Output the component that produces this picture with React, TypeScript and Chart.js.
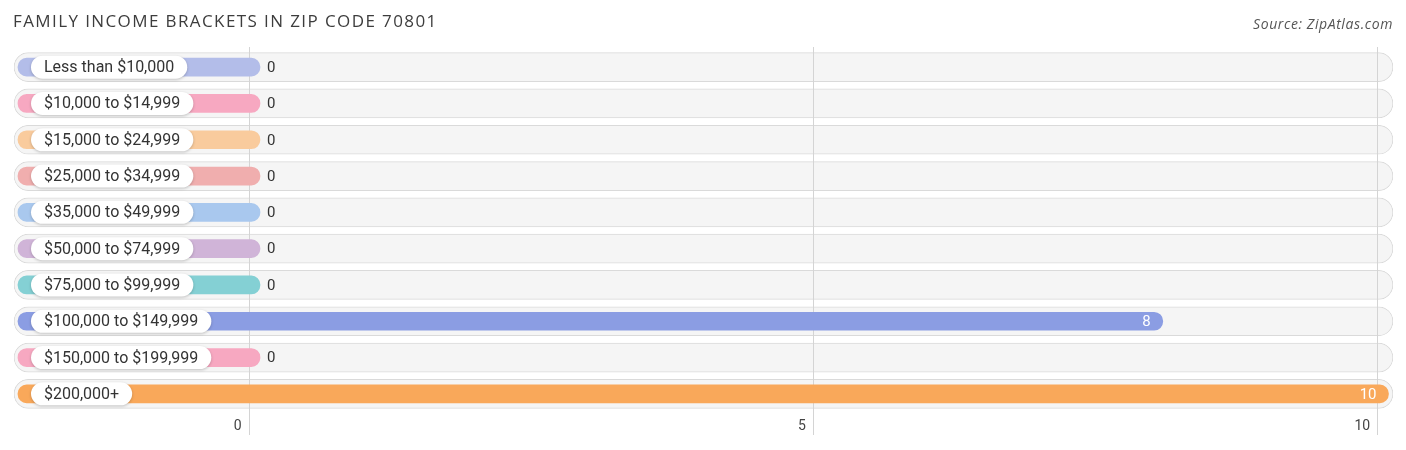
import { useEffect, useRef } from 'react'
import { Chart, registerables } from 'chart.js'

Chart.register(...registerables)

const categories = [
  'Less than $10,000',
  '$10,000 to $14,999',
  '$15,000 to $24,999',
  '$25,000 to $34,999',
  '$35,000 to $49,999',
  '$50,000 to $74,999',
  '$75,000 to $99,999',
  '$100,000 to $149,999',
  '$150,000 to $199,999',
  '$200,000+',
]
const values = [0, 0, 0, 0, 0, 0, 0, 8, 0, 10]
const barColors = [
  '#b3bde9',
  '#f7a8c1',
  '#f9cb9d',
  '#f0aeae',
  '#a9c8ee',
  '#d0b4d8',
  '#84d0d4',
  '#8b9de3',
  '#f7a8c1',
  '#f9a85a',
]
const tickValues = [0, 5, 10]

const TITLE = 'FAMILY INCOME BRACKETS IN ZIP CODE 70801'
const SOURCE = 'Source: ZipAtlas.com'

// axis range (pill track runs a bit past both ends)
const X_MIN = -2.08
const X_MAX = 10.14
const BAR_START = -2.045
const BAR_OVERHANG = 0.1

const FONT = 'Roboto, "Open Sans", sans-serif'

const overlayPlugin = {
  id: 'overlay',
  beforeDatasetDraw(chart: Chart, args: { index: number }) {
    if (args.index !== 1) return
    // grid lines sit between the grey track and the coloured bars
    const { ctx } = chart
    const x = chart.scales.x
    ctx.save()
    ctx.strokeStyle = '#d4d4d4'
    ctx.lineWidth = 1
    tickValues.forEach((v) => {
      const px = Math.round(x.getPixelForValue(v)) + 0.5
      ctx.beginPath()
      ctx.moveTo(px, 47)
      ctx.lineTo(px, 435)
      ctx.stroke()
    })
    ctx.restore()
  },
  afterDatasetsDraw(chart: Chart) {
    const { ctx } = chart
    const x = chart.scales.x
    const y = chart.scales.y
    ctx.save()
    categories.forEach((label, i) => {
      const cy = y.getPixelForValue(i)

      // label pill
      ctx.font = `16px ${FONT}`
      const w = ctx.measureText(label).width + 26
      const h = 23
      const left = 31
      ctx.save()
      ctx.shadowColor = 'rgba(0,0,0,0.22)'
      ctx.shadowBlur = 3
      ctx.shadowOffsetY = 1
      ctx.fillStyle = '#ffffff'
      ctx.beginPath()
      ctx.roundRect(left, cy - h / 2, w, h, h / 2)
      ctx.fill()
      ctx.restore()
      ctx.fillStyle = '#333333'
      ctx.textAlign = 'left'
      ctx.textBaseline = 'middle'
      ctx.fillText(label, left + 13, cy + 1)

      // value label
      const v = values[i]
      const end = x.getPixelForValue(v + BAR_OVERHANG)
      ctx.font = `15px ${FONT}`
      if (v > 0) {
        ctx.fillStyle = '#ffffff'
        ctx.textAlign = 'right'
        ctx.fillText(String(v), end - 12, cy + 1)
      } else {
        ctx.fillStyle = '#333333'
        ctx.textAlign = 'left'
        ctx.fillText(String(v), end + 7, cy + 1)
      }
    })
    ctx.restore()
  },
  afterDraw(chart: Chart) {
    const { ctx } = chart
    const x = chart.scales.x
    ctx.save()
    ctx.textBaseline = 'alphabetic'

    ctx.fillStyle = '#3d3d3d'
    ctx.font = `17px "Open Sans", ${FONT}`
    ctx.textAlign = 'left'
    ;(ctx as any).letterSpacing = '1.4px'
    ctx.fillText(TITLE, 13, 27)

    ctx.fillStyle = '#555555'
    ctx.font = `italic 14px "Open Sans", ${FONT}`
    ctx.textAlign = 'right'
    ;(ctx as any).letterSpacing = '0.6px'
    ctx.fillText(SOURCE, 1393, 29)
    ;(ctx as any).letterSpacing = '0px'

    ctx.fillStyle = '#444444'
    ctx.font = `14px ${FONT}`
    ctx.textBaseline = 'middle'
    tickValues.forEach((v) => {
      ctx.fillText(String(v), x.getPixelForValue(v) - 7, 426)
    })
    ctx.restore()
  },
}

export default function App() {
  const canvasRef = useRef<HTMLCanvasElement>(null)
  const chartRef = useRef<Chart | null>(null)

  useEffect(() => {
    document.body.style.margin = '0'
    if (!canvasRef.current) return
    const ctx = canvasRef.current.getContext('2d')
    if (!ctx) return

    chartRef.current = new Chart(ctx, {
      type: 'bar',
      data: {
        labels: categories,
        datasets: [
          {
            data: categories.map(() => [X_MIN, X_MAX]),
            backgroundColor: '#f5f5f5',
            borderColor: '#dadada',
            borderWidth: 1,
            borderRadius: 15,
            borderSkipped: false,
            barThickness: 29,
            grouped: false,
            order: 2,
          },
          {
            data: values.map((v) => [BAR_START, v + BAR_OVERHANG]),
            backgroundColor: barColors,
            borderWidth: 0,
            borderRadius: 9,
            borderSkipped: false,
            barThickness: 18,
            grouped: false,
            order: 1,
          },
        ],
      },
      options: {
        indexAxis: 'y',
        responsive: false,
        maintainAspectRatio: false,
        animation: false,
        layout: { padding: { left: 14, right: 13, top: 49, bottom: 38 } },
        scales: {
          x: { display: false, min: X_MIN, max: X_MAX },
          y: { display: false },
        },
        plugins: {
          legend: { display: false },
          tooltip: { enabled: false },
        },
      },
      plugins: [overlayPlugin],
    })

    return () => {
      if (chartRef.current) {
        chartRef.current.destroy()
        chartRef.current = null
      }
    }
  }, [])

  return (
    <div style={{ width: 1406, height: 450, background: '#ffffff' }}>
      <canvas ref={canvasRef} width={1406} height={450} />
    </div>
  )
}
